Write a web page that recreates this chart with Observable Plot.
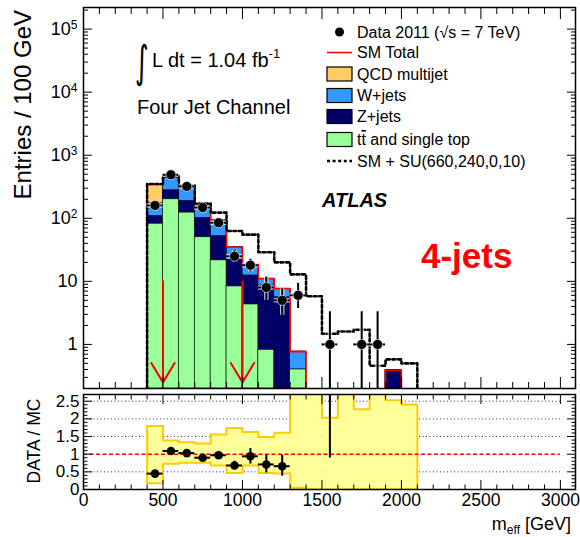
<!DOCTYPE html>
<html>
<head>
<meta charset="utf-8">
<script src="https://cdn.jsdelivr.net/npm/d3@7"></script>
<script src="https://cdn.jsdelivr.net/npm/@observablehq/plot@0.6"></script>
<style>
  body { margin: 0; background: white; }
  #chart { position: relative; width: 580px; height: 537px; background: white; font-family: "Liberation Sans", Arial, sans-serif; }
  #top, #bot { position: absolute; left: 0; }
  #top { top: 0; }
  #bot { top: 390px; }
  #overlay { position: absolute; left: 0; top: 0; pointer-events: none; }
</style>
</head>
<body>
<div id="chart">
  <div id="top"></div>
  <div id="bot"></div>
  <svg id="overlay" width="580" height="537"></svg>
</div>
<script>
// ---------------- data ----------------
const binLow   = [400, 500, 600, 700, 800, 900, 1000, 1100, 1200, 1300, 1400, 1500, 1600, 1700, 1800, 1900, 2000];
const binWidth = 100;
const ttbar    = [82, 200, 123, 50, 21.5, 8.3, 4.3, 0.82, 0, 0.40, 0, 0, 0, 0, 0, 0, 0];
const zjets    = [27, 78, 65, 51, 30.5, 13.7, 8.1, 7.8, 5.6, 0, 0, 0, 0, 0, 0, 0.39, 0];
const wjets    = [64, 175, 127, 64, 41, 13, 6, 2.4, 2.05, 0.37, 0, 0, 0, 0, 0, 0, 0];
const qcd      = [170, 0, 0, 0, 0, 0, 0, 0, 0, 0, 0, 0, 0, 0, 0, 0, 0];
const smPlusSU = [350, 460, 330, 171, 123, 63, 55, 29, 20, 12.9, 5.8, 1.48, 1.6, 1.71, 0.46, 0.58, 0.50];
const bandLo   = [0.18, 0.73, 0.76, 0.76, 0.68, 0.47, 0.68, 0.47, 0.45, 0.05, 0, 0, 0, 0, 0, 0, 0];
const bandHi   = [1.80, 1.39, 1.34, 1.30, 1.56, 1.74, 1.63, 1.49, 1.61, 3, 3, 2.03, 3, 2.27, 3, 2.53, 2.41];

const dataX  = [450, 550, 650, 750, 850, 950, 1050, 1150, 1250, 1350, 1550, 1750, 1850];
const dataY  = [160, 490, 320, 148, 85, 25, 18, 8, 5, 6, 1, 1, 1];
const dataLo = [147, 468, 302, 136, 76, 20.5, 14, 5.0, 2.9, 3.7, 0.17, 0.17, 0.17];
const dataHi = [173, 512, 338, 160, 94, 31, 22.5, 11.7, 7.6, 9.3, 3.3, 3.3, 3.3];

const ratioX  = [450, 550, 650, 750, 850, 950, 1050, 1150, 1250];
const ratioY  = [0.45, 1.09, 1.03, 0.90, 0.97, 0.68, 0.94, 0.71, 0.66];
const ratioLo = [0.41, 1.04, 0.97, 0.83, 0.88, 0.56, 0.72, 0.47, 0.38];
const ratioHi = [0.49, 1.14, 1.09, 0.97, 1.06, 0.80, 1.16, 0.97, 0.97];
const ratioOffX  = [1550];
const ratioOffLo = [0.89];

const cutValues = [500, 1000];

const xTicksMajor = [0, 500, 1000, 1500, 2000, 2500, 3000];
const yTicksTop   = [1, 10, 100, 1000, 10000, 100000];
const yTicksRatio = [0, 0.5, 1, 1.5, 2, 2.5];
const ratioGrid   = [0.5, 1.5, 2, 2.5];

// ---------------- derived tables ----------------
const X_DOMAIN = [0, 3095];
const yMin = 0.2, yMax = 2.2e5;
const bins = binLow.map((x0, i) => {
  const cTT = ttbar[i], cZ = cTT + zjets[i], cW = cZ + wjets[i], total = cW + qcd[i];
  return {x0, x1: x0 + binWidth, tt: ttbar[i], cTT, cZ, cW, total, su: smPlusSU[i], lo: bandLo[i], hi: bandHi[i]};
});
function outline(key) {
  const pts = []; let seg = 0, open = false, last = null;
  for (const b of bins) {
    const v = b[key];
    if (v > 0) {
      if (!open) { pts.push({x: b.x0, y: yMin, z: seg}); open = true; }
      pts.push({x: b.x0, y: v, z: seg}, {x: b.x1, y: v, z: seg});
      last = b;
    } else if (open) { pts.push({x: last.x1, y: yMin, z: seg}); open = false; seg++; }
  }
  if (open) pts.push({x: last.x1, y: yMin, z: seg});
  return pts;
}
const redOutline = outline("total");
const suOutline = outline("su");
const points = dataX.map((x, i) => ({x, y: dataY[i], lo: dataLo[i], hi: dataHi[i]}));
const rpoints = ratioX.map((x, i) => ({x, y: ratioY[i], lo: ratioLo[i], hi: ratioHi[i]}));
const roff = ratioOffX.map((x, i) => ({x, lo: ratioOffLo[i]}));
const bandPoly = [];
bins.forEach(b => { bandPoly.push({x: b.x0, y: b.hi}, {x: b.x1, y: b.hi}); });
bins.slice().reverse().forEach(b => { bandPoly.push({x: b.x1, y: b.lo}, {x: b.x0, y: b.lo}); });
bandPoly.push({x: bins[0].x0, y: bins[0].hi});

const xMinor = d3.range(0, 3001, 100).filter(v => v % 500 !== 0);
const yMinorLog = [];
for (let e = -1; e <= 5; e++) for (let k = 2; k <= 9; k++) { const v = k * Math.pow(10, e); if (v >= yMin && v <= yMax) yMinorLog.push(v); }
const yMinorRatio = d3.range(0, 27).map(v => v / 10).filter(v => Math.round(v * 10) % 5 !== 0);

const font = "Liberation Sans, Arial, Helvetica, sans-serif";
const noText = () => "";

// ---------------- top panel ----------------
const layer = (key, fill) => Plot.rect(bins.filter(b => b[key] > 0), {
  x1: "x0", x2: "x1", y1: yMin, y2: key, fill, stroke: "black", strokeWidth: 0.6, clip: true
});

const topPlot = Plot.plot({
  width: 580, height: 390,
  marginLeft: 83, marginRight: 5, marginTop: 7, marginBottom: 2,
  x: {domain: X_DOMAIN},
  y: {type: "log", domain: [yMin, yMax]},
  style: {fontFamily: font, fontSize: "18px", color: "black", background: "white"},
  marks: [
    layer("total", "#ffcc66"),
    layer("cW", "#3399ff"),
    layer("cZ", "#000066"),
    layer("cTT", "#99ff99"),
    Plot.line(redOutline, {x: "x", y: "y", z: "z", stroke: "#ff0000", strokeWidth: 1.6, clip: true}),
    Plot.line(suOutline, {x: "x", y: "y", z: "z", stroke: "black", strokeWidth: 2.6, strokeDasharray: "3,2.6", clip: true}),
    Plot.arrow(cutValues, {x1: d => d, x2: d => d, y1: 10, y2: 0.25, stroke: "#ff0000", strokeWidth: 2, headAngle: 62, headLength: 17}),
    // data with halo
    Plot.ruleX(points, {x: "x", y1: d => Math.max(d.lo, yMin), y2: "hi", stroke: "white", strokeWidth: 4.5, strokeOpacity: 0.7, clip: true}),
    Plot.ruleY(points, {y: "y", x1: d => d.x - 50, x2: d => d.x + 50, stroke: "white", strokeWidth: 4.5, strokeOpacity: 0.7, clip: true}),
    Plot.ruleX(points, {x: "x", y1: d => Math.max(d.lo, yMin), y2: "hi", stroke: "black", strokeWidth: 2, clip: true}),
    Plot.ruleY(points, {y: "y", x1: d => d.x - 50, x2: d => d.x + 50, stroke: "black", strokeWidth: 2, clip: true}),
    Plot.dot(points, {x: "x", y: "y", r: 5, fill: "black", stroke: "white", strokeWidth: 1, strokeOpacity: 0.6}),
    Plot.frame({stroke: "black", strokeWidth: 1.5}),
    Plot.axisY({anchor: "left", ticks: yTicksTop, tickSize: 0, tickPadding: 6, label: null, fontSize: 18,
      tickFormat: d => d >= 100 ? "10^" + Math.round(Math.log10(d)) : String(d)}),
    Plot.axisY({anchor: "left", ticks: yTicksTop, tickSize: -9, tickFormat: noText, label: null}),
    Plot.axisY({anchor: "left", ticks: yMinorLog, tickSize: -5, tickFormat: noText, label: null}),
    Plot.axisY({anchor: "right", ticks: yTicksTop, tickSize: -9, tickFormat: noText, label: null}),
    Plot.axisY({anchor: "right", ticks: yMinorLog, tickSize: -5, tickFormat: noText, label: null}),
    Plot.axisX({anchor: "top", ticks: xTicksMajor, tickSize: -11, tickFormat: noText, label: null}),
    Plot.axisX({anchor: "top", ticks: xMinor, tickSize: -6, tickFormat: noText, label: null}),
    Plot.axisX({anchor: "bottom", ticks: xTicksMajor, tickSize: -11, tickFormat: noText, label: null}),
    Plot.axisX({anchor: "bottom", ticks: xMinor, tickSize: -6, tickFormat: noText, label: null})
  ]
});
document.getElementById("top").appendChild(topPlot);

// superscripts for 10^n labels
topPlot.querySelectorAll("text").forEach(t => {
  const s = t.textContent;
  if (s.includes("^")) {
    const [base, exp] = s.split("^");
    t.textContent = base;
    const ts = document.createElementNS("http://www.w3.org/2000/svg", "tspan");
    ts.setAttribute("dy", "-0.5em");
    ts.setAttribute("font-size", "12px");
    ts.textContent = exp;
    t.appendChild(ts);
  }
});

// ---------------- ratio panel ----------------
const botPlot = Plot.plot({
  width: 580, height: 147,
  marginLeft: 83, marginRight: 5, marginTop: 4, marginBottom: 48,
  x: {domain: X_DOMAIN},
  y: {domain: [0, 2.69]},
  style: {fontFamily: font, fontSize: "18px", color: "black", background: "white"},
  marks: [
    Plot.ruleY(ratioGrid, {y: d => d, x1: 0, x2: 3000, stroke: "black", strokeWidth: 0.8, strokeDasharray: "1,2.5"}),
    Plot.rect(bins, {x1: "x0", x2: "x1", y1: "lo", y2: "hi", fill: "#ffff99", clip: true}),
    Plot.line(bandPoly, {x: "x", y: "y", stroke: "#ffcc00", strokeWidth: 2, clip: true}),
    Plot.ruleY([1], {y: d => d, x1: 0, x2: 3000, stroke: "#ff0000", strokeWidth: 1.5, strokeDasharray: "4,2.5"}),
    Plot.ruleX(rpoints, {x: "x", y1: "lo", y2: "hi", stroke: "black", strokeWidth: 2}),
    Plot.ruleY(rpoints, {y: "y", x1: d => d.x - 50, x2: d => d.x + 50, stroke: "black", strokeWidth: 2}),
    Plot.dot(rpoints, {x: "x", y: "y", r: 4.3, fill: "black"}),
    Plot.ruleX(roff, {x: "x", y1: "lo", y2: 3, stroke: "black", strokeWidth: 2, clip: true}),
    Plot.frame({stroke: "black", strokeWidth: 1.5}),
    Plot.axisY({anchor: "left", ticks: yTicksRatio, tickSize: 0, tickPadding: 4, label: null, fontSize: 17, tickFormat: d => String(d)}),
    Plot.axisY({anchor: "left", ticks: yTicksRatio, tickSize: -9, tickFormat: noText, label: null}),
    Plot.axisY({anchor: "left", ticks: yMinorRatio, tickSize: -4.5, tickFormat: noText, label: null}),
    Plot.axisY({anchor: "right", ticks: yTicksRatio, tickSize: -9, tickFormat: noText, label: null}),
    Plot.axisY({anchor: "right", ticks: yMinorRatio, tickSize: -4.5, tickFormat: noText, label: null}),
    Plot.axisX({anchor: "bottom", ticks: xTicksMajor, tickSize: 0, tickPadding: 4, label: null, fontSize: 17.5, tickFormat: d => String(d)}),
    Plot.axisX({anchor: "bottom", ticks: xTicksMajor, tickSize: -9, tickFormat: noText, label: null}),
    Plot.axisX({anchor: "bottom", ticks: xMinor, tickSize: -4.5, tickFormat: noText, label: null}),
    Plot.axisX({anchor: "top", ticks: xTicksMajor, tickSize: -9, tickFormat: noText, label: null}),
    Plot.axisX({anchor: "top", ticks: xMinor, tickSize: -4.5, tickFormat: noText, label: null})
  ]
});
document.getElementById("bot").appendChild(botPlot);

// ---------------- overlay: titles, annotations, legend ----------------
const ov = d3.select("#overlay").style("font-family", font);

ov.append("text").attr("transform", "translate(31,10) rotate(-90)").attr("text-anchor", "end")
  .attr("font-size", 24).text("Entries / 100 GeV");
ov.append("text").attr("transform", "translate(40,441) rotate(-90)").attr("text-anchor", "middle")
  .attr("font-size", 17.5).text("DATA / MC");
const mt = ov.append("text").attr("x", 571).attr("y", 530).attr("text-anchor", "end").attr("font-size", 18);
mt.append("tspan").text("m");
mt.append("tspan").attr("font-size", 12).attr("dy", 4).text("eff");
mt.append("tspan").attr("dy", -4).text(" [GeV]");

// luminosity
ov.append("text").attr("transform", "translate(135,77) scale(0.6,1)").attr("font-size", 44)
  .attr("font-family", "DejaVu Sans").text("∫");
const lt = ov.append("text").attr("x", 152).attr("y", 67).attr("font-size", 20);
lt.append("tspan").text("L dt = 1.04 fb");
lt.append("tspan").attr("font-size", 13).attr("dy", -9).text("-1");
ov.append("text").attr("x", 137).attr("y", 114).attr("font-size", 20).text("Four Jet Channel");
ov.append("text").attr("x", 322).attr("y", 207).attr("font-size", 20).attr("font-weight", "bold")
  .attr("font-style", "italic").text("ATLAS");
ov.append("text").attr("x", 421).attr("y", 268).attr("font-size", 35).attr("font-weight", "bold")
  .attr("fill", "#ff0000").text("4-jets");

// legend
const lg = ov.append("g").attr("font-size", 16);
lg.append("circle").attr("cx", 339.5).attr("cy", 32).attr("r", 4.5).attr("fill", "black");
const dt = lg.append("text").attr("x", 357).attr("y", 37.5);
dt.append("tspan").text("Data 2011 (");
dt.append("tspan").text("√s = 7 TeV)");
lg.append("line").attr("x1", 327).attr("x2", 352).attr("y1", 52.5).attr("y2", 52.5).attr("stroke", "#ff0000").attr("stroke-width", 1.6);
lg.append("text").attr("x", 357).attr("y", 58).text("SM Total");
const boxes = [
  {label: "QCD multijet", fill: "#ffcc66", cy: 74},
  {label: "W+jets", fill: "#3399ff", cy: 95.5},
  {label: "Z+jets", fill: "#000066", cy: 116.5},
  {label: "tt", fill: "#99ff99", cy: 139.5}
];
boxes.forEach(b => {
  lg.append("rect").attr("x", 327).attr("y", b.cy - 7).attr("width", 25).attr("height", 14)
    .attr("fill", b.fill).attr("stroke", "black").attr("stroke-width", 1.2);
  const t = lg.append("text").attr("x", 357).attr("y", b.cy + 5.5);
  if (b.label === "tt") {
    t.append("tspan").text("t");
    t.append("tspan").attr("style", "text-decoration: overline").text("t");
    t.append("tspan").text(" and single top");
  } else t.text(b.label);
});
lg.append("line").attr("x1", 327).attr("x2", 352).attr("y1", 161).attr("y2", 161).attr("stroke", "black")
  .attr("stroke-width", 2.6).attr("stroke-dasharray", "3,2.6");
lg.append("text").attr("x", 357).attr("y", 167).text("SM + SU(660,240,0,10)");
</script>
</body>
</html>
